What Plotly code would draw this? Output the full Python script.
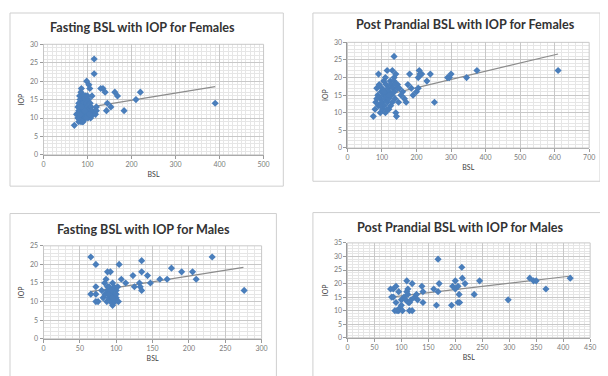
import plotly.graph_objects as go

# ---------- data ----------
# Panel 1: Fasting BSL vs IOP (Females)
f_fast_bsl = [70, 75, 78, 78, 80, 80, 80, 82, 82, 82, 83, 84, 85, 85, 85, 86, 86, 87, 88, 88, 88, 89, 90, 90, 90,
              90, 91, 92, 92, 93, 94, 95, 95, 95, 96, 97, 98, 98, 100, 100, 100, 101, 102, 103, 104, 105, 105, 106,
              107, 108, 110, 112, 115, 115, 117, 118, 120, 120, 130, 135, 140, 143, 145, 153, 162, 168, 183, 210,
              220, 390, 80, 84, 88, 92, 96, 100, 104, 86, 94, 110]
f_fast_iop = [8, 11, 13, 10, 12, 14, 9, 16, 11, 10, 15, 12, 13, 9, 17, 18, 11, 14, 12, 10, 16, 13, 15, 11, 9,
              14, 12, 16, 10, 13, 11, 15, 12, 10, 16, 14, 20, 12, 11, 13, 16, 10, 15, 19, 12, 18, 11, 14,
              10, 13, 12, 11, 26, 22, 12, 11, 13, 12, 18, 18, 17, 12, 14, 13, 17, 16, 12, 15,
              17, 14, 10, 11, 9, 12, 10, 12, 11, 13, 12, 16]
f_fast_trend_x = [80, 390]
f_fast_trend_y = [12.5, 18.5]

# Panel 2: Post prandial BSL vs IOP (Females)
f_pp_bsl = [75, 80, 82, 85, 88, 90, 90, 92, 95, 95, 98, 100, 100, 102, 104, 105, 106, 108, 110, 110, 112, 114,
            115, 115, 118, 120, 120, 122, 124, 125, 126, 128, 130, 130, 132, 135, 135, 136, 138, 140, 140, 142,
            145, 148, 150, 155, 160, 165, 170, 175, 180, 185, 190, 200, 205, 205, 208, 210, 215, 230, 240, 252,
            290, 295, 300, 345, 375, 610, 85, 95, 105, 115, 125, 135, 145, 110, 120, 140]
f_pp_iop = [9, 11, 13, 17, 15, 21, 12, 18, 14, 10, 16, 13, 17, 11, 15, 19, 12, 14, 16, 10, 18, 15,
            22, 13, 17, 14, 11, 16, 19, 12, 18, 15, 22, 13, 17, 26, 20, 16, 14, 21, 10, 9,
            18, 13, 17, 15, 16, 14, 13, 18, 21, 17, 15, 16, 17, 20, 22, 21, 21, 19, 21, 13,
            20, 20, 21, 20, 22, 22, 14, 12, 16, 11, 15, 19, 17, 20, 15, 18]
f_pp_trend_x = [80, 610]
f_pp_trend_y = [14.3, 26.7]

# Panel 3: Fasting BSL vs IOP (Males)
m_fast_bsl = [65, 65, 72, 72, 72, 72, 75, 80, 82, 84, 85, 86, 87, 88, 88, 90, 90, 91, 92, 92, 93, 94, 95, 95,
              96, 97, 98, 100, 100, 102, 103, 104, 107, 113, 123, 125, 132, 133, 135, 135, 135, 143, 147, 160,
              170, 176, 190, 205, 210, 232, 276, 85, 90, 95, 100, 88, 93]
m_fast_iop = [22, 12, 20, 14, 12, 10, 10, 13, 11, 15, 12, 16, 10, 18, 13, 11, 14, 12, 18, 10, 13, 11, 9, 15,
              12, 14, 10, 13, 11, 14, 10, 20, 16, 15, 17, 14, 15, 14, 21, 18, 13, 17, 15, 16,
              16, 19, 18, 18, 16, 22, 13, 12, 12, 11, 12, 14, 13]
m_fast_trend_x = [65, 275]
m_fast_trend_y = [12.7, 19.2]

# Panel 4: Post prandial BSL vs IOP (Males)
m_pp_bsl = [80, 82, 85, 85, 88, 90, 90, 92, 95, 95, 97, 100, 100, 102, 105, 108, 110, 110, 112, 112, 113, 115,
            115, 118, 120, 120, 125, 128, 130, 138, 140, 140, 160, 165, 168, 168, 170, 193, 195, 200, 200, 205,
            205, 207, 208, 212, 213, 218, 235, 245, 298, 338, 345, 350, 368, 413]
m_pp_iop = [18, 15, 18, 15, 10, 19, 13, 10, 17, 10, 11, 12, 14, 10, 15, 14, 21, 17, 18, 16, 13, 13,
            10, 14, 20, 10, 15, 16, 14, 19, 17, 13, 18, 12, 29, 17, 20, 12, 19, 21, 18, 19,
            13, 16, 13, 26, 22, 20, 16, 21, 14, 22, 21, 21, 18, 22]
m_pp_trend_x = [80, 415]
m_pp_trend_y = [15.0, 22.8]

titles = ["Fasting BSL with IOP for Females", "Post Prandial BSL with IOP for Females",
          "Fasting BSL with IOP for Males", "Post Prandial BSL with IOP for Males"]

# ---------- figure ----------
OFF = 8            # page body margin: figure starts at page (8, 8)
W, H = 600, 368
fig = go.Figure()


def fx(px):
    return (px - OFF) / W


def fy(py):
    return (H - (py - OFF)) / H


panels = [
    dict(x=f_fast_bsl, y=f_fast_iop, tx=f_fast_trend_x, ty=f_fast_trend_y,
         xr=[0, 500], xd=100, xm=10, yr=[0, 30], yd=5, ym=1,
         px=(42, 265), py=(40, 153), box=(8, 8, 285, 185), title_xy=(142, 23)),
    dict(x=f_pp_bsl, y=f_pp_iop, tx=f_pp_trend_x, ty=f_pp_trend_y,
         xr=[0, 700], xd=100, xm=20, yr=[0, 30], yd=5, ym=1,
         px=(350, 595), py=(38, 146), box=(315, 8, 606, 180), title_xy=(470, 20)),
    dict(x=m_fast_bsl, y=m_fast_iop, tx=m_fast_trend_x, ty=m_fast_trend_y,
         xr=[0, 300], xd=50, xm=10, yr=[0, 25], yd=5, ym=1,
         px=(42, 263), py=(246, 341), box=(8, 213, 278, 380), title_xy=(143, 229)),
    dict(x=m_pp_bsl, y=m_pp_iop, tx=m_pp_trend_x, ty=m_pp_trend_y,
         xr=[0, 450], xd=50, xm=10, yr=[0, 35], yd=5, ym=1,
         px=(350, 596), py=(243, 340), box=(315, 212, 612, 380), title_xy=(465, 227)),
]

marker_color = "#4a7ebb"
shapes = []
annotations = []
for i, p in enumerate(panels):
    n = i + 1
    xa = "x" if n == 1 else f"x{n}"
    ya = "y" if n == 1 else f"y{n}"
    fig.add_trace(go.Scatter(x=p["tx"], y=p["ty"], mode="lines",
                             line=dict(color="#8c8c8c", width=1.2),
                             xaxis=xa, yaxis=ya, showlegend=False, hoverinfo="skip"))
    fig.add_trace(go.Scatter(x=p["x"], y=p["y"], mode="markers",
                             marker=dict(symbol="diamond", size=5.5, color=marker_color),
                             xaxis=xa, yaxis=ya, showlegend=False))
    xdom = [fx(p["px"][0]), fx(p["px"][1])]
    ydom = [fy(p["py"][1]), fy(p["py"][0])]
    axis_common = dict(showline=True, linecolor="#9a9a9a", linewidth=1,
                       ticks="outside", ticklen=3, tickcolor="#9a9a9a",
                       tickfont=dict(family="Lato", size=7, color="#7a7a7a"),
                       gridcolor="#c8c8c8", gridwidth=1, zeroline=False)
    fig.layout[("xaxis" if n == 1 else f"xaxis{n}")] = dict(
        domain=xdom, range=p["xr"], dtick=p["xd"], tick0=0, anchor=ya,
        minor=dict(dtick=p["xm"], showgrid=True, gridcolor="#e6e6e6", gridwidth=1),
        title=dict(text="BSL", font=dict(family="Lato", size=7, color="#404040"), standoff=4),
        **axis_common)
    fig.layout[("yaxis" if n == 1 else f"yaxis{n}")] = dict(
        domain=ydom, range=p["yr"], dtick=p["yd"], tick0=0, anchor=xa,
        minor=dict(dtick=p["ym"], showgrid=True, gridcolor="#e6e6e6", gridwidth=1),
        title=dict(text="IOP", font=dict(family="Lato", size=7, color="#404040"), standoff=4),
        **axis_common)
    shapes.append(dict(type="rect", xref="paper", yref="paper",
                       x0=xdom[0], x1=xdom[1], y0=ydom[0], y1=ydom[1],
                       line=dict(color="#c8c8c8", width=1), layer="above"))
    bx0, by0, bx1, by1 = p["box"]
    shapes.append(dict(type="rect", xref="paper", yref="paper",
                       x0=fx(bx0), x1=fx(bx1), y0=fy(by1), y1=fy(by0),
                       line=dict(color="#cfcfcf", width=1), layer="below"))
    tx, ty = p["title_xy"]
    annotations.append(dict(text="<b>" + titles[i] + "</b>", xref="paper", yref="paper",
                            x=fx(tx), y=fy(ty), showarrow=False,
                            xanchor="center", yanchor="middle",
                            font=dict(family="Lato", size=12.6, color="#333333")))

fig.update_layout(width=W, height=H, margin=dict(l=0, r=0, t=0, b=0),
                  paper_bgcolor="white", plot_bgcolor="white",
                  shapes=shapes, annotations=annotations)

fig.write_html("out.html")
